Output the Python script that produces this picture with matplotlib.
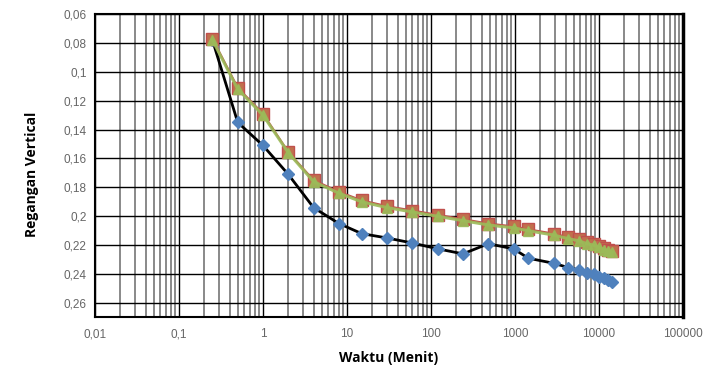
import numpy as np
import matplotlib.pyplot as plt
from matplotlib.ticker import FixedLocator, FuncFormatter, LogLocator

# time of each reading (minutes)
waktu = [0.25, 0.5, 1, 2, 4, 8, 15, 30, 60, 120, 240, 480, 960, 1440,
         2880, 4320, 5760, 7200, 8640, 10080, 11520, 12960, 14400]

# vertical strain readings
regangan_1 = [0.078, 0.135, 0.151, 0.171, 0.194, 0.205, 0.212, 0.215, 0.2185,
              0.2225, 0.226, 0.219, 0.2225, 0.229, 0.2325, 0.2355, 0.237,
              0.239, 0.240, 0.242, 0.243, 0.244, 0.2455]
regangan_2 = [0.077, 0.111, 0.129, 0.1555, 0.175, 0.183, 0.189, 0.193, 0.196,
              0.199, 0.202, 0.205, 0.207, 0.209, 0.212, 0.2145, 0.216,
              0.2175, 0.219, 0.2205, 0.222, 0.223, 0.224]
regangan_3 = [0.078, 0.112, 0.130, 0.156, 0.176, 0.184, 0.190, 0.194, 0.197,
              0.200, 0.203, 0.206, 0.208, 0.210, 0.213, 0.2155, 0.217,
              0.219, 0.220, 0.2215, 0.223, 0.224, 0.225]

yticks = [0.06, 0.08, 0.1, 0.12, 0.14, 0.16, 0.18, 0.2, 0.22, 0.24, 0.26]
xticks = [0.01, 0.1, 1, 10, 100, 1000, 10000, 100000]

plt.rcParams['font.family'] = ['Liberation Sans', 'DejaVu Sans']
fig = plt.figure(figsize=(7.18, 3.72), dpi=100)
ax = fig.add_axes([0.1323, 0.1478, 0.8190, 0.8146])

ax.set_xscale('log')
ax.set_xlim(0.01, 100000)
ax.set_ylim(0.2697, 0.06)

ax.xaxis.set_major_locator(FixedLocator(xticks))
ax.xaxis.set_minor_locator(LogLocator(base=10, subs=np.arange(2, 10)))
ax.yaxis.set_major_locator(FixedLocator(yticks))

def koma(v, pos):
    s = ('%.2f' % v).rstrip('0').rstrip('.') if v < 1 else '%d' % v
    return s.replace('.', ',')

ax.xaxis.set_major_formatter(FuncFormatter(koma))
ax.yaxis.set_major_formatter(FuncFormatter(koma))
ax.xaxis.set_minor_formatter(FuncFormatter(lambda v, p: ''))

ax.grid(True, which='major', color='black', linewidth=1.0)
ax.grid(True, which='minor', axis='x', color='#6a6a6a', linewidth=1.1)
ax.set_axisbelow(True)

ax.tick_params(which='both', length=0, labelsize=8.5, labelcolor='#666666')
ax.tick_params(axis='x', pad=8)
ax.tick_params(axis='y', pad=6)
for s in ax.spines.values():
    s.set_linewidth(1.5)
    s.set_color('black')
ax.spines['right'].set_linewidth(2.5)

ax.plot(waktu, regangan_1, color='black', linewidth=2.0, marker='D',
        markersize=6, markerfacecolor='#4F81BD', markeredgecolor='#4F81BD',
        zorder=3)
ax.plot(waktu, regangan_2, color='#C0504D', linewidth=1.5, marker='s',
        markersize=8, markerfacecolor='#C0704D', markeredgecolor='#C0504D',
        zorder=3)
ax.plot(waktu, regangan_3, color='#9BBB59', linewidth=2.2, marker='^',
        markersize=6.5, markerfacecolor='#9BBB59', markeredgecolor='#9BBB59',
        alpha=0.9, zorder=4)

ax.set_xlabel('Waktu (Menit)', fontsize=10, fontweight='bold',
              family=['Open Sans', 'DejaVu Sans'], labelpad=8)
ax.set_ylabel('Regangan Vertical', fontsize=10, fontweight='bold',
              family=['Open Sans', 'DejaVu Sans'])
ax.yaxis.set_label_coords(-0.095, 0.47)

fig.savefig('out.png', dpi=100)
